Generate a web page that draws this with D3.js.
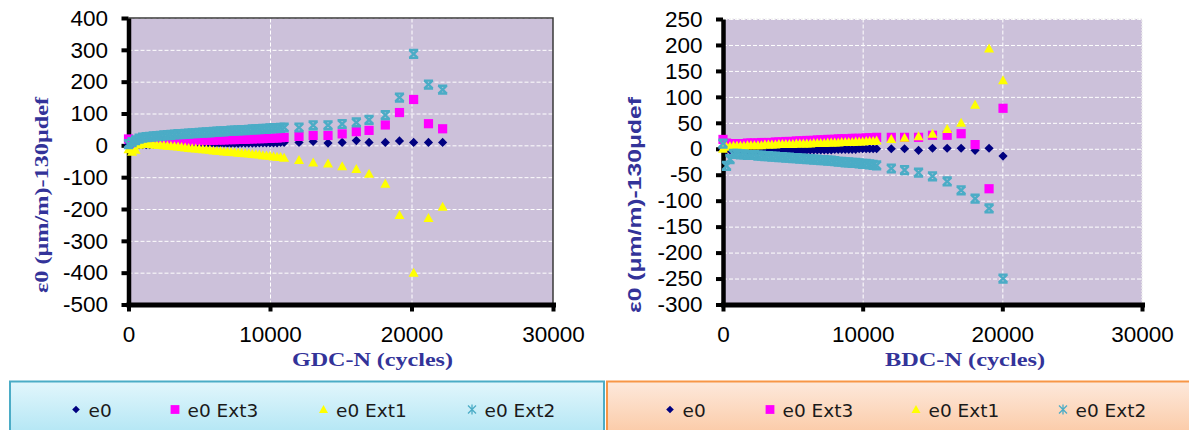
<!DOCTYPE html>
<html><head><meta charset="utf-8">
<script src="https://cdn.jsdelivr.net/npm/d3@7"></script>
<style>body{margin:0;background:#fff;} svg{display:block;}</style>
</head><body><svg id="c" width="1189" height="430"></svg>
<script>
// ---------------- DATA ----------------
const seriesNames = ["e0", "e0 Ext3", "e0 Ext1", "e0 Ext2"];
const xTicks = [0, 10000, 20000, 30000];
const gdcYTicks = [400, 300, 200, 100, 0, -100, -200, -300, -400, -500];
const bdcYTicks = [250, 200, 150, 100, 50, 0, -50, -100, -150, -200, -250, -300];

// dense readings (both tests), cycles
const cyclesDense = [0,250,500,750,1000, 1250,1500,1750,2000,2250, 2500,2750,3000,3250,3500,
  3750,4000,4250,4500,4750, 5000,5250,5500,5750,6000, 6250,6500,6750,7000,7250,
  7500,7750,8000,8250,8500, 8750,9000,9250,9500,9750, 10000,10250,10500,10750,11000];

// GDC
const gdcE0Dense   = [2,1,1,2,2, 2,2,3,3,3, 3,3,3,4,4, 4,4,4,4,5, 5,5,5,5,5, 5,6,6,6,6, 6,6,7,7,7, 7,7,8,8,8, 8,8,8,9,9];
const gdcExt3Dense = [20,6,6,8,9, 9,10,10,11,11, 11,12,12,12,13, 13,14,14,14,15, 15,15,16,16,16, 17,17,17,18,18, 18,19,19,19,20, 20,21,21,21,22, 22,23,23,24,25];
const gdcExt1Dense = [-12,-20,-14,2,5, 5,4,3,2,1, 0,-1,-2,-3,-4, -5,-7,-8,-9,-10, -11,-12,-13,-14,-16, -17,-18,-19,-20,-21, -22,-23,-24,-25,-26, -27,-28,-29,-31,-32, -33,-35,-36,-37,-39];
const gdcExt2Dense = [4,10,16,21,24, 26,27,28,29,30, 31,32,33,34,35, 35,36,37,38,38, 39,40,41,41,42, 43,44,44,45,46, 46,47,48,48,49, 50,50,51,52,52, 53,54,54,55,56];
const gdcCyclesSparse = [12050, 13050, 14100, 15100, 16100, 17000, 18150, 19150, 20150, 21200, 22200];
const gdcE0Sparse   = [9, 12, 7, 9, 15, 9, 9, 14, 9, 9, 9];
const gdcExt3Sparse = [28, 31, 31, 36, 43, 47, 64, 103, 144, 68, 52];
const gdcExt1Sparse = [-46, -54, -57, -66, -74, -89, -121, -219, -400, -228, -193];
const gdcExt2Sparse = [56, 63, 63, 67, 72, 80, 95, 150, 287, 191, 175];

// BDC
const bdcE0Dense   = [0,-2,-2,-2,-2, -2,-2,-2,-2,-3, -3,-3,-3,-3,-3, -3,-3,-3,-3,-3, -3,-3,-3,-3,-3, -2,-2,-2,-2,-2, -2,-2,-1,-1,-1, -1,-1,-1,-1,0, 0,0,0,0,0];
const bdcExt3Dense = [18,11,10,10,10, 10,10,11,11,11, 11,12,12,12,12, 13,13,13,14,14, 14,15,15,15,16, 16,16,17,17,17, 18,18,18,19,19, 19,19,20,20,20, 20,21,21,21,22];
const bdcExt1Dense = [0,4,5,6,6, 6,6,7,7,7, 7,7,8,8,8, 8,9,9,9,9, 9,10,10,10,10, 10,11,11,11,11, 12,12,12,12,13, 13,13,13,14,14, 14,15,15,15,16];
const bdcExt2Dense = [10,-33,-20,-10,-10, -11,-11,-12,-12,-12, -13,-13,-14,-14,-15, -15,-16,-16,-17,-17, -18,-18,-19,-19,-20, -20,-21,-21,-22,-22, -23,-23,-24,-25,-25, -26,-26,-27,-27,-28, -29,-29,-30,-31,-32];
const bdcCyclesSparse = [12050, 13000, 14000, 15000, 16050, 17050, 18050, 19050, 20050];
const bdcE0Sparse   = [0, 0, -3, 1, 1, 1, -3, 1, -14];
const bdcExt3Sparse = [22, 22, 22, 26, 26, 29, 8, -77, 78];
const bdcExt1Sparse = [19, 21, 24, 29, 38, 50, 85, 193, 132];
const bdcExt2Sparse = [-38, -41, -46, -53, -63, -80, -96, -115, -250];

// ---------------- STYLE ----------------
const colors = ["#000080", "#ff00ff", "#ffff00", "#4bacc6"];
const shapes = ["diamond", "square", "triangle", "star"];
const titleColor = "#333399";
const plotBg = "#ccc1da";
const fmt = d => String(d);

const svg = d3.select("#c");

function markerPath(shape, s) {
  if (shape === "diamond") return `M0,${-s}L${s},0L0,${s}L${-s},0Z`;
  if (shape === "square") return `M${-s},${-s}h${2*s}v${2*s}h${-2*s}Z`;
  if (shape === "triangle") return `M0,${-s}L${s},${s*0.8}L${-s},${s*0.8}Z`;
  return `M${-s},${-s*0.85}H${s}M${-s},${s*0.85}H${s}M${-s*0.9},${-s*0.85}L${s*0.9},${s*0.85}M${s*0.9},${-s*0.85}L${-s*0.9},${s*0.85}`;
}
function styleMarker(sel, i, legend) {
  if (shapes[i] === "star") {
    sel.attr("fill", "none").attr("stroke", colors[i]).attr("stroke-width", legend ? 1.3 : 2.4);
  } else {
    sel.attr("fill", colors[i]).attr("stroke", "none");
  }
}

function buildSeries(dense, sparse, sparseCycles) {
  const pts = cyclesDense.map((c, k) => ({n: c, v: dense[k]}));
  return pts.concat(sparseCycles.map((c, k) => ({n: c, v: sparse[k]})));
}

function drawPanel(cfg) {
  const g = svg.append("g");
  const x = d3.scaleLinear().domain([0, 30000]).range([cfg.x0, cfg.x1]);
  const y = d3.scaleLinear().domain([cfg.yTicks[cfg.yTicks.length-1], cfg.yTicks[0]]).range([cfg.yBot, cfg.yTop]);

  g.append("rect").attr("x", cfg.x0).attr("y", cfg.yTop)
    .attr("width", cfg.x1 - cfg.x0).attr("height", cfg.yBot - cfg.yTop).attr("fill", plotBg);

  // gridlines
  const gy = g.append("g").attr("transform", `translate(${cfg.x0},0)`)
    .call(d3.axisLeft(y).tickValues(cfg.yTicks.slice(0, -1)).tickSize(-(cfg.x1 - cfg.x0)).tickFormat(""));
  gy.select(".domain").remove();
  gy.selectAll("line").attr("stroke", "#fff").attr("stroke-width", 1).attr("stroke-dasharray", "4,2");
  const gx = g.append("g").attr("transform", `translate(0,${cfg.yBot})`)
    .call(d3.axisBottom(x).tickValues([10000, 20000]).tickSize(-(cfg.yBot - cfg.yTop)).tickFormat(""));
  gx.select(".domain").remove();
  gx.selectAll("line").attr("stroke", "#fff").attr("stroke-width", 1).attr("stroke-dasharray", "4,2");

  // border (top/right)
  const b = g.append("path")
    .attr("d", `M${cfg.x0},${cfg.yTop}H${cfg.x1}V${cfg.yBot}`)
    .attr("fill", "none");
  if (cfg.darkBorder) b.attr("stroke", "#3a3a3a").attr("stroke-width", 1.5);
  else b.attr("stroke", "#eeeeee").attr("stroke-width", 1.2).attr("stroke-dasharray", "2,1");

  // axes
  const ay = g.append("g").attr("transform", `translate(${cfg.x0},0)`)
    .call(d3.axisLeft(y).tickValues(cfg.yTicks).tickSize(7).tickPadding(13.5).tickSizeOuter(0).tickFormat(fmt));
  ay.select(".domain").attr("stroke", "#000").attr("stroke-width", 4.5);
  ay.selectAll(".tick line").attr("stroke", "#000").attr("stroke-width", 4);
  ay.selectAll("text").attr("font-family", "'Liberation Sans', Arial, sans-serif").attr("font-size", "22.5px").attr("fill", "#000");

  const ax = g.append("g").attr("transform", `translate(0,${cfg.yBot})`)
    .call(d3.axisBottom(x).tickValues(xTicks).tickSize(7).tickPadding(14.5).tickSizeOuter(0).tickFormat(fmt));
  ax.select(".domain").attr("stroke", "#000").attr("stroke-width", 5).attr("stroke-linecap", "square");
  ax.selectAll(".tick line").attr("stroke", "#000").attr("stroke-width", 4);
  ax.selectAll("text").attr("font-family", "'Liberation Sans', Arial, sans-serif").attr("font-size", "22.5px").attr("fill", "#000");

  // markers
  const sizes = [4.6, 4.6, 5, 4.6];
  cfg.series.forEach((pts, i) => {
    const sg = g.append("g");
    const m = sg.selectAll("path").data(pts).enter().append("path")
      .attr("d", markerPath(shapes[i], sizes[i]))
      .attr("transform", d => `translate(${x(d.n)},${y(d.v)})`);
    styleMarker(m, i, false);
  });

  // titles
  g.append("text").text(cfg.xTitle)
    .attr("x", cfg.xTitleX).attr("y", 366)
    .attr("font-family", "'Liberation Serif', 'Times New Roman', serif").attr("font-weight", "bold")
    .attr("font-size", "18px").attr("fill", titleColor)
    .attr("textLength", cfg.xTitleLen).attr("lengthAdjust", "spacingAndGlyphs");
  g.append("text").text("ε0 (μm/m)-130μdef")
    .attr("transform", `translate(${cfg.yTitleX},${cfg.yTitleY}) rotate(-90)`)
    .attr("text-anchor", "middle").attr("dominant-baseline", "central")
    .attr("font-family", cfg.yTitleFont).attr("font-weight", "bold")
    .attr("font-size", "18px").attr("fill", titleColor)
    .attr("textLength", cfg.yTitleLen).attr("lengthAdjust", "spacingAndGlyphs");
}

drawPanel({
  x0: 128.5, x1: 553, yTop: 18, yBot: 304.5, yTicks: gdcYTicks, darkBorder: true,
  series: [
    buildSeries(gdcE0Dense, gdcE0Sparse, gdcCyclesSparse),
    buildSeries(gdcExt3Dense, gdcExt3Sparse, gdcCyclesSparse),
    buildSeries(gdcExt1Dense, gdcExt1Sparse, gdcCyclesSparse),
    buildSeries(gdcExt2Dense, gdcExt2Sparse, gdcCyclesSparse)
  ],
  xTitle: "GDC-N (cycles)", xTitleX: 292, xTitleLen: 161,
  yTitleX: 42, yTitleY: 195, yTitleLen: 196, yTitleFont: "'Liberation Serif', 'Times New Roman', serif"
});
drawPanel({
  x0: 723, x1: 1142, yTop: 19, yBot: 304.5, yTicks: bdcYTicks, darkBorder: false,
  series: [
    buildSeries(bdcE0Dense, bdcE0Sparse, bdcCyclesSparse),
    buildSeries(bdcExt3Dense, bdcExt3Sparse, bdcCyclesSparse),
    buildSeries(bdcExt1Dense, bdcExt1Sparse, bdcCyclesSparse),
    buildSeries(bdcExt2Dense, bdcExt2Sparse, bdcCyclesSparse)
  ],
  xTitle: "BDC-N (cycles)", xTitleX: 885, xTitleLen: 160,
  yTitleX: 635, yTitleY: 205, yTitleLen: 216, yTitleFont: "'Liberation Sans', Arial, sans-serif"
});

// ---------------- LEGENDS ----------------
const defs = svg.append("defs");
function grad(id, c0, c1) {
  const lg = defs.append("linearGradient").attr("id", id).attr("x1", 0).attr("y1", 0).attr("x2", 0).attr("y2", 1);
  lg.append("stop").attr("offset", "0%").attr("stop-color", c0);
  lg.append("stop").attr("offset", "100%").attr("stop-color", c1);
}
grad("gBlue", "#e2f6fc", "#ace4f3");
grad("gOrange", "#fde9dc", "#fbc69f");

function legend(x, w, fill, stroke, markerXs) {
  const g = svg.append("g");
  g.append("rect").attr("x", x).attr("y", 381.5).attr("width", w).attr("height", 60)
    .attr("fill", `url(#${fill})`).attr("stroke", stroke).attr("stroke-width", 2);
  const lsz = [3.8, 4.4, 4.5, 4.5];
  seriesNames.forEach((name, i) => {
    const m = g.append("path").attr("d", markerPath(shapes[i], lsz[i]))
      .attr("transform", `translate(${markerXs[i]},409.5)`);
    if (shapes[i] === "star") {
      m.attr("d", `M-4,-4L4,4M4,-4L-4,4M0,-5V5`);
    }
    styleMarker(m, i, true);
    g.append("text").text(name).attr("x", markerXs[i] + 12.5).attr("y", 416.5)
      .attr("font-family", "'DejaVu Sans', Verdana, sans-serif").attr("font-size", "18.5px").attr("fill", "#1a1a1a");
  });
}
legend(10, 594, "gBlue", "#4bacc6", [76, 175, 323.5, 472]);
legend(607, 600, "gOrange", "#f79646", [670, 770, 916, 1063]);
</script>
</body></html>
